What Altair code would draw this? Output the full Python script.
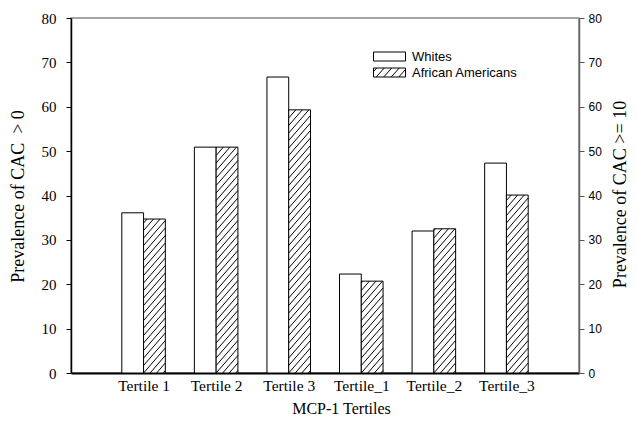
import math
import altair as alt
import pandas as pd

# ---- data ----
groups = ["Tertile 1", "Tertile 2", "Tertile 3", "Tertile_1", "Tertile_2", "Tertile_3"]
positions = [1, 2, 3, 4, 5, 6]
whites = [36.1, 50.9, 66.7, 22.3, 32.0, 47.3]
african_americans = [34.7, 50.9, 59.3, 20.7, 32.5, 40.1]
series = ["Whites", "African Americans"]
y_ticks = [0, 10, 20, 30, 40, 50, 60, 70, 80]

# ---- layout / style constants ----
W, H = 508, 355
X_MAX = 7
Y_MAX = 80
BAR = 0.3
SERIF = "Liberation Serif"
SANS = "Liberation Sans"

df = pd.DataFrame({"pos": positions, "group": groups,
                   "whites": whites, "aa": african_americans})

# hatch lines for the African American bars (derived from the values)
PX_X = W / X_MAX
PX_Y = H / Y_MAX
SLOPE, GAP = 1.15, 7.5
rows = []
for pos, v in zip(positions, african_americans):
    w = BAR * PX_X
    h = v * PX_Y
    k0 = math.floor(-SLOPE * w / GAP) - 1
    k1 = math.ceil(h / GAP) + 1
    for k in range(k0, k1):
        c = k * GAP
        xs = max(0.0, -c / SLOPE)
        xe = min(w, (h - c) / SLOPE)
        if xe - xs > 0.3:
            rows.append({"x": pos + xs / PX_X, "x2": pos + xe / PX_X,
                         "y": (SLOPE * xs + c) / PX_Y,
                         "y2": (SLOPE * xe + c) / PX_Y})
hatch = pd.DataFrame(rows)

# legend symbol paths (units: 8px), box 32x9 px
BH = 0.5625
box = f"M-1,{-BH}H3V{BH}H-1Z"
hp = [box]
dx_line = 1.0
for k in range(-2, 6):
    b = -1.6 + k * 0.94
    x0, y0 = b, BH
    x1, y1 = b + dx_line, -BH
    slope = (y1 - y0) / (x1 - x0)
    if x1 <= -1 or x0 >= 3:
        continue
    if x0 < -1:
        y0 = y0 + slope * (-1 - x0)
        x0 = -1
    if x1 > 3:
        y1 = y0 + slope * (3 - x0)
        x1 = 3
    hp.append(f"M{x0:.3f},{y0:.3f}L{x1:.3f},{y1:.3f}")
box_hatch = "".join(hp)

label_expr = "[" + ",".join(f"'{g}'" for g in groups) + "][datum.value - 1]"

x_scale = alt.Scale(domain=[0, X_MAX], nice=False, zero=False)
x_axis = alt.Axis(values=positions, labelExpr=label_expr, ticks=False, grid=False,
                  labelFont=SERIF, labelFontSize=15.5, labelColor="black", labelPadding=5,
                  domainColor="black", domainWidth=2,
                  title="MCP-1 Tertiles", titleFont=SERIF, titleFontSize=16,
                  titleFontWeight="normal", titleColor="black",
                  titleX=270, titleY=35, titleBaseline="middle", titleAlign="center")

y_scale = alt.Scale(domain=[0, Y_MAX], nice=False)
left_axis = alt.Axis(values=y_ticks, grid=False, tickSize=5, tickColor="black",
                     domainColor="black", domainWidth=1.5,
                     labelFont=SERIF, labelFontSize=15, labelColor="black", labelPadding=10,
                     title="Prevalence of CAC\u00a0 > 0", titleFont=SERIF, titleFontSize=18,
                     titleFontWeight="normal", titleColor="black",
                     titleAngle=270, titleX=-53, titleY=178,
                     titleAlign="center", titleBaseline="middle")
right_axis = alt.Axis(orient="right", values=y_ticks, grid=False, tickSize=5,
                      tickColor="#555", domainColor="#666", domainWidth=1.5,
                      labelFont=SANS, labelFontSize=12, labelColor="black", labelPadding=4,
                      title="Prevalence of CAC >= 10", titleFont=SERIF, titleFontSize=18,
                      titleFontWeight="normal", titleColor="black",
                      titleAngle=270, titleX=41, titleY=176,
                      titleAlign="center", titleBaseline="middle")

base = alt.Chart(df)

white_bars = base.transform_calculate(x0=f"datum.pos - {BAR}").mark_bar(
    fill="white", stroke="black", strokeWidth=1
).encode(
    x=alt.X("x0:Q", scale=x_scale, axis=x_axis),
    x2="pos:Q",
    y=alt.Y("whites:Q", scale=y_scale, axis=left_axis),
    y2=alt.datum(0),
)

aa_bars = base.transform_calculate(x1=f"datum.pos + {BAR}").mark_bar(
    fill="white", stroke="black", strokeWidth=1
).encode(
    x=alt.X("pos:Q", scale=x_scale),
    x2="x1:Q",
    y=alt.Y("aa:Q", scale=y_scale, axis=right_axis),
    y2=alt.datum(0),
)

hatch_lines = alt.Chart(hatch).mark_rule(color="black", strokeWidth=1).encode(
    x=alt.X("x:Q", scale=x_scale),
    x2="x2:Q",
    y=alt.Y("y:Q", scale=y_scale, axis=None),
    y2="y2:Q",
)

legend_df = pd.DataFrame({"series": series})
legend_layer = alt.Chart(legend_df).mark_point(
    opacity=0, filled=False, stroke="black", size=256
).encode(
    shape=alt.Shape("series:N", scale=alt.Scale(domain=series, range=[box, box_hatch]),
                    legend=alt.Legend(title=None, orient="none", legendX=302, legendY=30,
                                      padding=0, symbolSize=256, symbolStrokeWidth=1,
                                      symbolStrokeColor="black", symbolFillColor="white",
                                      symbolOpacity=1, labelOffset=22,
                                      labelFont=SANS, labelFontSize=13, labelColor="black",
                                      rowPadding=0, symbolLimit=0))
)

chart = alt.layer(white_bars, aa_bars, hatch_lines, legend_layer).resolve_scale(
    y="independent", shape="independent"
).properties(
    width=W, height=H,
    padding={"left": 63, "top": 10, "right": 50, "bottom": 45},
    autosize=alt.AutoSizeParams(type="none"),
    background="white",
).configure_view(stroke="#888", strokeWidth=1.5)

chart.save("out.html", embed_options={"renderer": "svg", "actions": False})
